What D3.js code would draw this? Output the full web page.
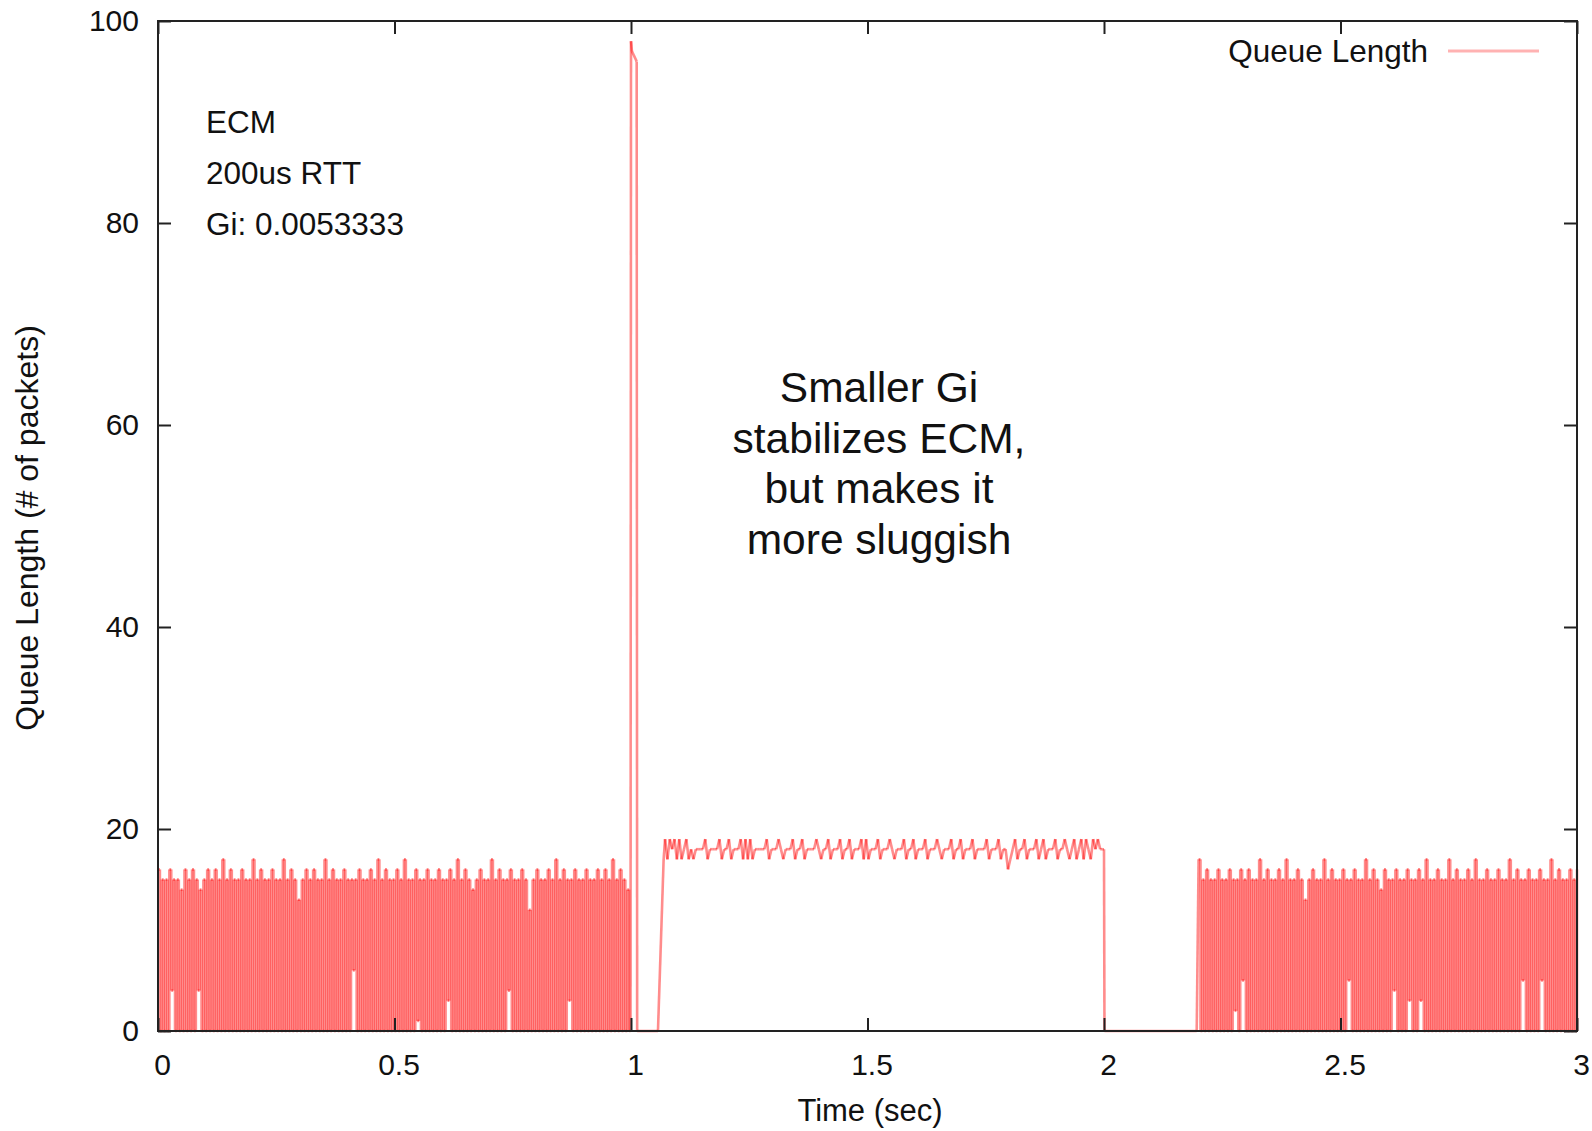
<!DOCTYPE html>
<html>
<head>
<meta charset="utf-8">
<script src="https://cdn.jsdelivr.net/npm/d3@7"></script>
<style>
  body { margin: 0; background: #fff; }
  text { font-family: "Liberation Sans", Arial, Helvetica, sans-serif; fill: #111; }
</style>
</head>
<body>
<div id="sketchpad"></div>
<script>
// queue samples, 0 .. 0.996 s every 4 ms
let noiseStep = 0.004
let noiseAStart = 0
let noiseA = [
  16,0,15,0,15,0,16,4,15,0,15,0,14,0,16,0,15,0,16,0,
  15,4,14,0,15,0,16,0,15,0,16,0,15,0,17,0,15,0,16,0,
  15,0,15,0,16,0,15,0,15,0,17,0,15,0,16,0,15,0,15,0,
  16,0,15,0,15,0,17,0,15,0,16,0,15,0,13,0,15,0,16,0,
  15,0,16,0,15,0,15,0,17,0,15,0,16,0,15,0,15,0,16,0,
  15,0,15,6,15,0,16,0,15,0,15,0,16,0,15,0,17,0,15,0,
  16,0,15,0,15,0,16,0,15,0,17,0,15,0,15,0,16,1,15,0,
  15,0,16,0,15,0,15,0,16,0,15,0,15,3,16,0,15,0,17,0,
  15,0,16,0,15,0,14,0,15,0,16,0,15,0,15,0,17,0,15,0,
  16,0,15,0,15,4,16,0,15,0,15,0,16,0,15,0,12,0,15,0,
  16,0,15,0,15,0,16,0,15,0,17,0,15,0,16,0,15,3,15,0,
  16,0,15,0,15,0,16,0,15,0,15,0,16,0,15,0,16,0,15,0,
  17,0,15,0,16,0,15,0,14,0
]

// the burst at 1 s and the ramp up to the plateau
let spikeTime  = [0.999, 1.000, 1.002, 1.012, 1.013, 1.057, 1.069]
let spikeValue = [0,     98,    97,    96,    0,     0,     17]

// plateau, 1.072 .. 1.997 s every 5 ms
let plateauStep = 0.005
let plateauStart = 1.072
let plateau = [
  19,17,19,18,19,17,19,17,18,19,17,18,17,18,18,18,18,19,17,18,18,18,18,19,17,
  18,18,19,17,18,18,18,19,17,19,17,19,17,18,18,18,18,18,19,17,18,18,18,19,18,
  17,18,18,18,19,17,18,18,19,17,18,18,18,18,19,18,17,18,18,19,17,18,18,18,19,
  17,18,18,19,17,18,18,18,19,17,19,17,18,18,18,19,17,18,18,18,19,18,17,18,18,
  18,19,17,18,18,19,17,18,18,18,19,17,18,18,18,19,18,17,18,18,18,19,17,18,18,
  19,17,18,18,18,19,17,18,18,18,18,19,17,18,18,18,19,17,18,18,16,17,18,19,17,
  18,18,19,17,18,18,18,19,17,18,19,17,18,18,18,19,17,18,18,19,18,17,18,19,17,
  18,19,17,19,18,17,19,18,19,18,18
]

// drop at 2 s and the idle gap
let dropTime  = [2.000, 2.001, 2.196]
let dropValue = [18,    0,     0]

// queue samples 2.2 .. 3.0 s every 4 ms
let noiseBStart = 2.2
let noiseB = [
  17,0,15,0,16,0,15,0,15,0,16,0,15,0,15,0,16,0,15,2,
  15,0,16,5,15,0,16,0,15,0,15,0,17,0,15,0,16,0,15,0,
  15,0,16,0,15,0,17,0,15,0,15,0,16,0,15,0,13,0,15,0,
  16,0,15,0,15,0,17,0,15,0,16,0,15,0,15,0,16,0,15,5,
  15,0,16,0,15,0,15,0,17,0,15,0,16,0,15,0,14,0,16,0,
  15,0,15,4,16,0,15,0,15,0,16,3,15,0,15,0,16,3,15,0,
  17,0,15,0,15,0,16,0,15,0,15,0,17,0,15,0,16,0,15,0,
  15,0,16,0,15,0,17,0,15,0,15,0,16,0,15,0,15,0,16,0,
  15,0,15,0,17,0,15,0,16,0,15,5,15,0,16,0,15,0,15,0,
  16,5,15,0,15,0,17,0,15,0,16,0,15,0,15,0,16,0,15,0,
  16
]

let xTicks = [0, 0.5, 1, 1.5, 2, 2.5, 3]
let yTicks = [0, 20, 40, 60, 80, 100]
let notes = ["ECM", "200us RTT", "Gi: 0.0053333"]
let callout = ["Smaller Gi", "stabilizes ECM,", "but makes it", "more sluggish"]

let width = 1592
let height = 1131
let plotLeft = 158, plotRight = 1577, plotTop = 21, plotBottom = 1031

let points = []
// queue length holds until the next sample, so the busy parts are drawn as stairs
let stairs = (start, step, values) => values.forEach((v, i) => {
  let t = start + i * step
  if (i > 0) points.push([t, values[i - 1]])
  points.push([t, v])
})
stairs(noiseAStart, noiseStep, noiseA)
spikeTime.forEach((t, i) => points.push([t, spikeValue[i]]))
plateau.forEach((v, i) => points.push([plateauStart + i * plateauStep, v]))
dropTime.forEach((t, i) => points.push([t, dropValue[i]]))
stairs(noiseBStart, noiseStep, noiseB)

let x = d3.scaleLinear().domain([0, 3]).range([plotLeft, plotRight])
let y = d3.scaleLinear().domain([0, 100]).range([plotBottom, plotTop])

let svg = d3.select("#sketchpad")
  .append("svg")
  .attr("width", width)
  .attr("height", height)

// each segment on its own so overlaps build up like the original
svg.append("g")
  .selectAll("line")
  .data(d3.pairs(points))
  .join("line")
  .attr("x1", d => x(d[0][0]))
  .attr("y1", d => y(d[0][1]))
  .attr("x2", d => x(d[1][0]))
  .attr("y2", d => y(d[1][1]))
  .attr("stroke", "#ff0000")
  .attr("stroke-opacity", 0.45)
  .attr("stroke-width", 2.6)

// ticks on all four sides, pointing in
let tickLen = 13
let fmt = d => String(d)

let gx = svg.append("g")
  .attr("transform", `translate(0,${plotBottom})`)
  .call(d3.axisBottom(x).tickValues(xTicks).tickFormat(fmt).tickSize(-tickLen).tickPadding(23))
gx.selectAll("text").attr("dx", 4)

svg.append("g")
  .attr("transform", `translate(0,${plotTop})`)
  .call(d3.axisTop(x).tickValues(xTicks).tickFormat("").tickSize(-tickLen))

svg.append("g")
  .attr("transform", `translate(${plotLeft},0)`)
  .call(d3.axisLeft(y).tickValues(yTicks).tickFormat(fmt).tickSize(-tickLen).tickPadding(19))

svg.append("g")
  .attr("transform", `translate(${plotRight},0)`)
  .call(d3.axisRight(y).tickValues(yTicks).tickFormat("").tickSize(-tickLen))

svg.selectAll(".domain").remove()
svg.selectAll(".tick line").attr("stroke", "#222").attr("stroke-width", 2)
svg.selectAll(".tick text")
  .style("font-family", '"Liberation Sans", Arial, Helvetica, sans-serif')
  .style("font-size", "30px")
  .attr("fill", "#111")

svg.append("rect")
  .attr("x", plotLeft)
  .attr("y", plotTop)
  .attr("width", plotRight - plotLeft)
  .attr("height", plotBottom - plotTop)
  .attr("fill", "none")
  .attr("stroke", "#222")
  .attr("stroke-width", 2)

// axis titles
svg.append("text")
  .attr("x", 870)
  .attr("y", 1121)
  .attr("text-anchor", "middle")
  .style("font-size", "31px")
  .text("Time (sec)")

svg.append("text")
  .attr("transform", "translate(38,528) rotate(-90)")
  .attr("text-anchor", "middle")
  .style("font-size", "32px")
  .text("Queue Length (# of packets)")

// legend
svg.append("text")
  .attr("x", 1428)
  .attr("y", 62)
  .attr("text-anchor", "end")
  .style("font-size", "31.5px")
  .text("Queue Length")

svg.append("line")
  .attr("x1", 1448)
  .attr("x2", 1539)
  .attr("y1", 51)
  .attr("y2", 51)
  .attr("stroke", "#ff0000")
  .attr("stroke-opacity", 0.3)
  .attr("stroke-width", 3)

// labels in the top left corner
svg.selectAll(".note")
  .data(notes)
  .join("text")
  .attr("class", "note")
  .attr("x", 206)
  .attr("y", (d, i) => 133 + i * 51)
  .style("font-size", "31.5px")
  .text(d => d)

// big callout in the middle
svg.selectAll(".callout")
  .data(callout)
  .join("text")
  .attr("class", "callout")
  .attr("x", 879)
  .attr("y", (d, i) => 402 + i * 50.5)
  .attr("text-anchor", "middle")
  .style("font-size", "42.5px")
  .attr("fill", "#000")
  .text(d => d)
</script>
</body>
</html>
